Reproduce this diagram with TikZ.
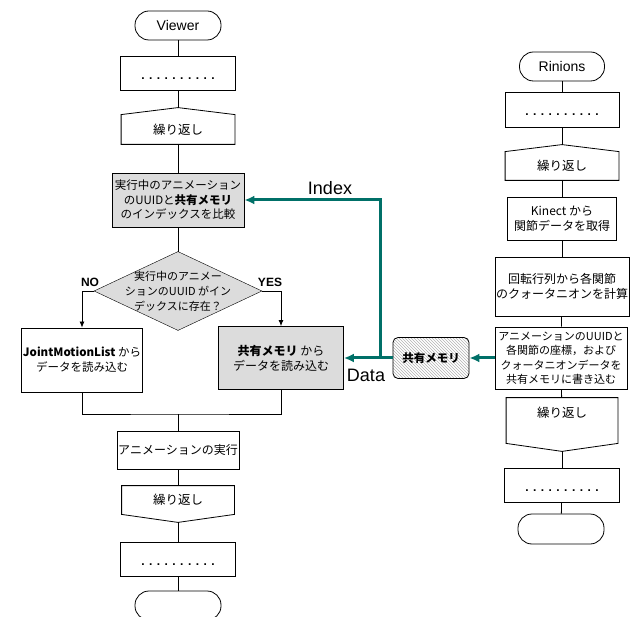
\documentclass[tikz,border=0pt]{standalone}
\usepackage{fontspec}
\setmainfont{Liberation Sans}
\newfontfamily\jpfont{Noto Sans CJK JP}
\usepackage{tikz}
\usetikzlibrary{arrows.meta,patterns,positioning,backgrounds}
\definecolor{flowteal}{RGB}{0,112,104}
\definecolor{boxgray}{RGB}{220,220,220}

\begin{document}
\begin{tikzpicture}[x=1pt,y=-1pt,line width=0.8pt,
    proc/.style={draw,rectangle,align=center,inner sep=1pt,font=\jpfont\fontsize{12}{15}\selectfont},
    hili/.style={proc,fill=boxgray},
    term/.style={draw,rectangle,rounded corners=14pt,minimum width=86pt,minimum height=29pt,font=\fontsize{14}{16}\selectfont},
    dotbox/.style={draw,rectangle,minimum width=115pt,minimum height=34pt,font=\bfseries\fontsize{12}{14}\selectfont},
    loopbox/.style={rectangle,align=center,inner sep=0pt,font=\jpfont\fontsize{12.5}{14}\selectfont},
    arr/.style={-{Latex[length=6pt,width=5pt]}},
    flow/.style={flowteal,line width=3pt,-{Latex[length=10pt,width=9pt]}},
    lbl/.style={font=\fontsize{18}{20}\selectfont},
    yn/.style={font=\bfseries\fontsize{12}{14}\selectfont}]

  \useasboundingbox (0,0) rectangle (637,617);

  % Viewer side
  \node[term] (vterm) at (178,25.5) {Viewer};
  \node[dotbox] (vdots) at (178,73.5) {\rule{0pt}{12pt}. . . . . . . . . .};
  \node[loopbox,minimum width=113pt,minimum height=29pt] (vl1) at (178,129.5) {繰り返し};
  \node[hili,minimum width=132pt,minimum height=54pt,font=\jpfont\fontsize{11.5}{14.5}\selectfont] (cmp) at (178,200)
    {実行中のアニメーション\\のUUIDと\textbf{共有メモリ}\\のインデックスを比較};
  \node[loopbox,minimum width=167pt,minimum height=78pt,font=\jpfont\fontsize{11}{15}\selectfont] (dec) at (178,291)
    {実行中のアニメー\\ションのUUID がイン\\デックスに存在？};
  \node[proc,minimum width=121pt,minimum height=64pt,font=\jpfont\fontsize{11.5}{15}\selectfont] (lbox) at (82,360)
    {\textbf{JointMotionList} から\\データを読み込む};
  \node[hili,minimum width=125pt,minimum height=63pt] (rbox) at (281,358)
    {\textbf{共有メモリ} から\\データを読み込む};
  \coordinate (mg) at (178,414);
  \node[proc,minimum width=122pt,minimum height=38pt] (exec) at (178,450) {アニメーションの実行};
  \node[loopbox,minimum width=112pt,minimum height=28pt] (vl2) at (178,500) {繰り返し};
  \node[dotbox] (vdots2) at (178,559.5) {\rule{0pt}{12pt}. . . . . . . . . .};
  \node[term] (vend) at (178,605.5) {};

  \node[yn] (no) at (90,282) {NO};
  \node[yn] (yes) at (270,282) {YES};

  % Rinions side
  \node[term,minimum width=85pt] (rterm) at (562,66.5) {Rinions};
  \node[dotbox,minimum width=114pt,minimum height=35pt] (rdots) at (562,109.5) {\rule{0pt}{12pt}. . . . . . . . . .};
  \node[loopbox,minimum width=113pt,minimum height=28pt] (rl1) at (562,166) {繰り返し};
  \node[proc,minimum width=109pt,minimum height=43pt] (kin) at (562,218.5) {Kinect から\\関節データを取得};
  \node[proc,minimum width=120pt,minimum height=59pt] (rot) at (562,286.5) {回転行列から各関節\\のクォータニオンを計算};
  \node[proc,minimum width=132pt,minimum height=62pt,font=\jpfont\fontsize{11}{14.5}\selectfont] (wr) at (561,358)
    {アニメーションのUUIDと\\各関節の座標，および\\クォータニオンデータを\\共有メモリに書き込む};
  \node[loopbox,minimum width=111pt,minimum height=45pt] (rl2) at (562,420.5) {繰り返し\\[2pt]};
  \node[dotbox] (rdots2) at (562,485) {\rule{0pt}{12pt}. . . . . . . . . .};
  \node[term,minimum height=30pt] (rend) at (561,529) {};

  % shared memory
  \node[draw,rectangle,rounded corners=5pt,pattern=north west lines,pattern color=gray!60,
        minimum width=76pt,minimum height=41pt,font=\jpfont\bfseries\fontsize{11.5}{14}\selectfont] (shm) at (431,358) {共有メモリ};
  \coordinate (jn) at (380,358);
  \node[lbl] (idx) at (330,188) {Index};
  \node[lbl] (dat) at (366,375) {Data};

  \begin{scope}[on background layer]
    \draw[fill=boxgray] (dec.north) -- (dec.east) -- (dec.south) -- (dec.west) -- cycle;
  \end{scope}
  \foreach \n in {vl1,rl1}
    \draw (\n.south west) -- (\n.north west) -- ([yshift=7pt]\n.north) -- (\n.north east) -- (\n.south east) -- cycle;
  \foreach \n in {vl2,rl2}
    \draw (\n.north west) -- (\n.south west) -- ([yshift=-8pt]\n.south) -- (\n.south east) -- (\n.north east) -- cycle;

  \draw (vterm) -- (vdots);
  \draw (vdots) -- ([yshift=7pt]vl1.north);
  \draw (vl1) -- (cmp);
  \draw (cmp) -- (dec);
  \draw[arr] (dec.west) -| (lbox);
  \draw[arr] (dec.east) -| (rbox);
  \draw (lbox.south) |- (mg) -| (rbox.south);
  \draw (mg) -- (exec);
  \draw (exec) -- (vl2);
  \draw ([yshift=-8pt]vl2.south) -- (vdots2);
  \draw (vdots2) -- (vend);

  \draw (rterm) -- (rdots);
  \draw (rdots) -- ([yshift=7pt]rl1.north);
  \draw (rl1) -- (kin);
  \draw (kin) -- (rot);
  \draw (rot) -- (wr);
  \draw (wr) -- (rl2);
  \draw ([yshift=-8pt]rl2.south) -- (rdots2);
  \draw (rdots2) -- (rend);

  \draw[flow] (wr) -- (shm);
  \draw[flow] (shm) -- (rbox);
  \draw[flow] (jn) |- (cmp);
\end{tikzpicture}
\end{document}
